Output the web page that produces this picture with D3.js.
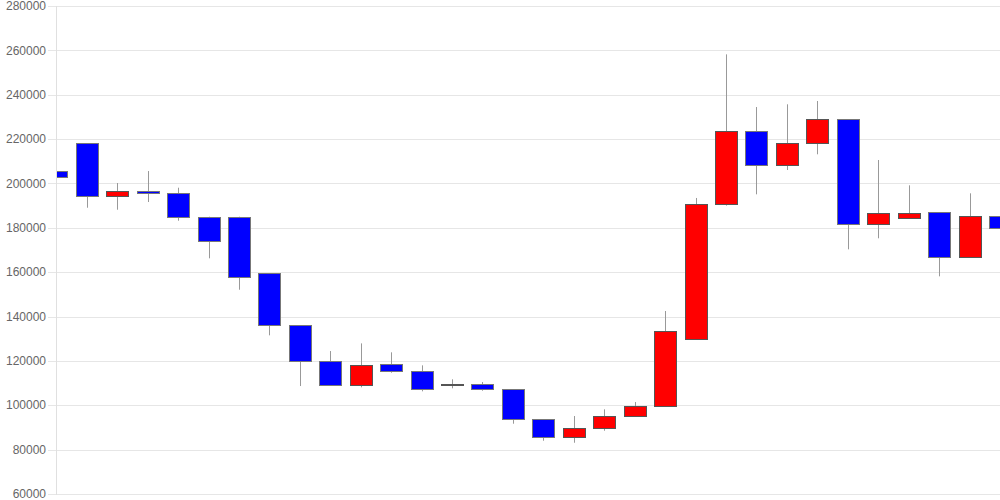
<!DOCTYPE html>
<html>
<head>
<meta charset="utf-8">
<script src="https://cdn.jsdelivr.net/npm/d3@7"></script>
<style>
  html, body { margin: 0; padding: 0; background: #fff; }
  svg { display: block; }
</style>
</head>
<body>
<svg id="chart" width="1000" height="500"></svg>
<script>
// Candle data (index order, left to right)
const opens  = [205600, 218100, 194500, 196600, 195550, 185000, 185000, 159500, 136000, 120000,
                109000, 118450, 115570, 109700, 109450, 107200,  93650,  85550,  89800,  95150,
                 99650, 129700, 190600, 223500, 208180, 218100, 229050, 181580, 184550, 187120,
                166700, 185180];
const closes = [203040, 194500, 196600, 195550, 185000, 174050, 157700, 136000, 120100, 109000,
                118000, 115570, 107200, 109700, 107200,  93650,  85550,  89600,  95150,  99650,
                133300, 190600, 223500, 208180, 218100, 229050, 181580, 186540, 186540, 166700,
                185180, 180040];
const highs  = [223600, 218100, 200200, 205600, 198080, 185000, 185000, 159500, 136000, 124450,
                127900, 123870, 118000, 111700, 110480, 107200,  93650,  95150,  98170, 101460,
                142500, 193450, 258200, 234460, 235680, 237170, 229050, 210570, 199160, 187120,
                195550, 192980];
const lows   = [203040, 189060, 188160, 191630, 183200, 166250, 152100, 131530, 108670, 109000,
                108090, 114670, 106280, 107640, 106550,  91680,  84010,  83110,  88520,  95150,
                 99650, 129700, 190000, 195100, 206060, 213140, 170300, 175270, 184100, 158130,
                166700, 175990];
const yTicks = [60000, 80000, 100000, 120000, 140000, 160000, 180000, 200000, 220000, 240000, 260000, 280000];

const svg = d3.select("#chart");
const pLeft = 57, pRight = 1000, pTop = 6, pBottom = 494;

const x = d3.scaleLinear().domain([0, opens.length - 1]).range([56.3, 1000]);
const y = d3.scaleLinear().domain([60000, 280000]).range([pBottom, pTop]);

// grid lines + tick marks
const grid = svg.append("g");
grid.selectAll("line").data(yTicks).join("line")
  .attr("x1", 48).attr("x2", pRight)
  .attr("y1", d => Math.round(y(d)) + 0.5).attr("y2", d => Math.round(y(d)) + 0.5)
  .attr("stroke", "#e6e6e6").attr("stroke-width", 1);

// y axis line
svg.append("line")
  .attr("x1", pLeft - 0.5).attr("x2", pLeft - 0.5)
  .attr("y1", pTop).attr("y2", pBottom + 1)
  .attr("stroke", "#e0e0e0").attr("stroke-width", 1);

// tick labels
svg.append("g").selectAll("text").data(yTicks).join("text")
  .attr("x", 46).attr("y", d => y(d))
  .attr("dy", "0.35em")
  .attr("text-anchor", "end")
  .attr("font-family", "'Liberation Sans', Arial, sans-serif")
  .attr("font-size", 12)
  .attr("fill", "#666")
  .text(d => d);

// clip
svg.append("defs").append("clipPath").attr("id", "plot")
  .append("rect").attr("x", pLeft).attr("y", 0).attr("width", pRight - pLeft).attr("height", 500);

const data = opens.map((o, i) => ({ i, o, c: closes[i], h: highs[i], l: lows[i] }));
const g = svg.append("g").attr("clip-path", "url(#plot)");
const half = 11;

// wicks
g.selectAll("line.wick").data(data).join("line")
  .attr("class", "wick")
  .attr("x1", d => Math.round(x(d.i)) + 0.5).attr("x2", d => Math.round(x(d.i)) + 0.5)
  .attr("y1", d => y(d.h)).attr("y2", d => y(d.l))
  .attr("stroke", "#999").attr("stroke-width", 1);

// bodies
g.selectAll("rect.body").data(data).join("rect")
  .attr("class", "body")
  .attr("x", d => Math.round(x(d.i)) - half + 0.5)
  .attr("width", half * 2)
  .attr("y", d => Math.round(y(Math.max(d.o, d.c))) + 0.5)
  .attr("height", d => Math.max(1, Math.round(y(Math.min(d.o, d.c))) - Math.round(y(Math.max(d.o, d.c)))))
  .attr("fill", d => d.c >= d.o ? "#ff0000" : "#0000ff")
  .attr("stroke", d => d.c >= d.o ? "#555" : "#777")
  .attr("stroke-width", 1);
</script>
</body>
</html>
